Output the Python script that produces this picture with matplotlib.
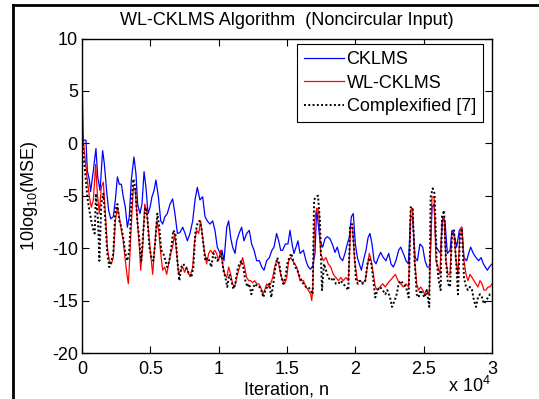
import matplotlib
matplotlib.use("Agg")
import matplotlib.pyplot as plt
from matplotlib.lines import Line2D
from matplotlib.ticker import FuncFormatter
import numpy as np

plt.rcParams["font.family"] = ["Liberation Sans", "DejaVu Sans"]
plt.rcParams["mathtext.fontset"] = "custom"
plt.rcParams["mathtext.rm"] = "Liberation Sans"
plt.rcParams["axes.unicode_minus"] = False

# CKLMS (blue)
cklms_n = [0, 100, 290, 390, 540, 630, 830, 1020, 1150, 1320, 1510, 1630, 1800, 1950, 2100,
           2290, 2440, 2590, 2730, 2880, 3020, 3170, 3320, 3460, 3610, 3800, 3950, 4070, 4240,
           4390, 4540, 4680, 4830, 4980, 5120, 5270, 5410, 5590, 5760, 5900, 6070, 6240, 6440,
           6630, 6800, 6980, 7170, 7370, 7540, 7710, 7900, 8100, 8270, 8440, 8630, 8830, 9000,
           9170, 9370, 9560, 9730, 9900, 10100, 10240, 10390, 10590, 10730, 10880, 11020, 11200,
           11320, 11490, 11680, 11850, 12050, 12240, 12410, 12590, 12780, 12980, 13150, 13320,
           13510, 13710, 13900, 14050, 14240, 14390, 14540, 14680, 14880, 15070, 15220, 15370,
           15510, 15660, 15800, 15950, 16200, 16390, 16560, 16730, 16880, 17050, 17170, 17410,
           17610, 17780, 17950, 18150, 18340, 18510, 18680, 18880, 19070, 19240, 19410, 19560,
           19710, 19850, 20000, 20150, 20290, 20440, 20590, 20780, 20930, 21070, 21220, 21370,
           21510, 21680, 21850, 22050, 22240, 22440, 22610, 22780, 22970, 23170, 23320, 23510,
           23710, 23880, 24050, 24190, 24370, 24540, 24730, 24930, 25100, 25270, 25460, 25610,
           25760, 25900, 26070, 26240, 26390, 26560, 26730, 26930, 27070, 27220, 27410, 27610,
           27780, 27950, 28140, 28290, 28440, 28630, 28830, 29020, 29200, 29370, 29510, 29660,
           29800, 30000]
cklms_mse = [1.5, 0.3, 0.3, -2.6, -3.5, -4.6, -2.6, -0.5, -3.2, -4.5, -0.7, -1.9, -4.5, -6.4, -7.2,
             -7.0, -5.4, -3.2, -3.9, -3.9, -5.1, -6.1, -8.0, -7.0, -3.5, -1.3, -2.9, -5.8, -6.7,
             -5.8, -2.7, -4.2, -6.7, -6.1, -5.1, -4.5, -3.5, -5.1, -7.4, -7.7, -7.0, -6.7, -5.8,
             -5.3, -6.7, -8.6, -8.5, -8.0, -8.6, -9.3, -8.6, -7.4, -5.4, -4.2, -5.4, -5.1, -7.0,
             -7.4, -7.7, -7.4, -8.3, -9.9, -10.5, -10.2, -11.2, -8.0, -7.4, -9.0, -9.9, -10.5,
             -9.3, -8.6, -8.0, -9.3, -8.6, -8.3, -9.6, -10.2, -11.2, -11.2, -11.8, -12.1,
             -11.2, -10.9, -10.2, -9.9, -8.6, -9.3, -10.2, -10.2, -9.6, -9.6, -8.3, -9.6,
             -10.5, -9.9, -9.3, -10.5, -10.2, -11.2, -11.8, -12.0, -11.7, -10.5, -6.2, -9.3,
             -9.9, -9.1, -8.9, -9.1, -9.7, -10.4, -9.9, -10.9, -11.2, -10.5, -9.6, -9.0,
             -7.0, -6.7, -9.6, -10.9, -11.5, -12.1, -11.2, -10.2, -9.0, -8.6, -9.6, -11.2,
             -11.5, -10.9, -10.4, -10.9, -11.2, -10.5, -11.5, -11.8, -11.2, -10.2, -9.9, -10.5,
             -11.2, -11.5, -7.0, -7.0, -10.9, -11.2, -9.6, -9.9, -11.2, -11.8, -11.8, -6.1,
             -5.8, -9.9, -10.2, -10.5, -7.0, -7.4, -10.5, -10.2, -8.3, -8.6, -9.9, -8.3,
             -8.0, -10.9, -11.2, -10.5, -9.9, -10.5, -10.9, -11.2, -10.9, -11.5, -11.8, -12.1,
             -11.8, -11.5]

# WL-CKLMS (red)
wl_n = [0, 100, 240, 390, 540, 680, 830, 1000, 1120, 1270, 1410, 1560, 1710, 1850, 2000, 2150,
        2290, 2440, 2590, 2730, 2880, 3020, 3170, 3320, 3390, 3460, 3610, 3760, 3900, 4050,
        4200, 4290, 4440, 4590, 4730, 4880, 5020, 5170, 5320, 5460, 5610, 5760, 5900, 6050,
        6200, 6340, 6490, 6630, 6780, 6930, 7070, 7220, 7370, 7510, 7660, 7800, 7950, 8100,
        8240, 8390, 8540, 8680, 8830, 8980, 9120, 9270, 9410, 9560, 9710, 9850, 10000, 10150,
        10290, 10440, 10590, 10730, 10880, 11020, 11170, 11320, 11460, 11610, 11760, 11900,
        12050, 12200, 12340, 12490, 12630, 12780, 12930, 13070, 13220, 13370, 13510, 13660,
        13800, 13950, 14100, 14240, 14390, 14540, 14680, 14830, 14980, 15120, 15270, 15410,
        15560, 15710, 15850, 15950, 16200, 16390, 16560, 16730, 16810, 16880, 17020, 17170,
        17320, 17460, 17660, 17850, 18020, 18200, 18390, 18580, 18760, 18930, 19120, 19320,
        19490, 19660, 19800, 19950, 20150, 20340, 20540, 20730, 20880, 21020, 21170, 21320,
        21460, 21610, 21800, 22000, 22190, 22340, 22540, 22730, 22930, 23120, 23320, 23510,
        23710, 23900, 24050, 24190, 24340, 24490, 24630, 24780, 24930, 25070, 25220, 25410,
        25610, 25760, 25900, 26050, 26190, 26340, 26490, 26630, 26780, 26930, 27070, 27220,
        27370, 27510, 27660, 27800, 27950, 28100, 28240, 28390, 28540, 28680, 28830, 28970,
        29120, 29270, 29410, 29560, 29710, 29850, 30000]
wl_mse = [7.0, 0.3, -1.6, -3.5, -5.1, -6.1, -5.4, -2.0, -4.8, -6.7, -4.2, -3.7, -6.7, -9.9, -11.2,
          -11.5, -10.9, -7.4, -6.1, -7.0, -8.3, -9.3, -11.2, -12.8, -13.4, -11.8, -7.7, -4.2,
          -4.5, -7.4, -9.9, -12.1, -9.9, -5.8, -6.4, -8.6, -10.5, -12.5, -9.9, -7.4, -8.3,
          -10.5, -12.1, -11.8, -12.5, -11.5, -10.5, -9.9, -8.6, -10.5, -12.5, -12.1, -11.8,
          -12.3, -11.8, -12.5, -12.5, -11.8, -9.3, -8.3, -8.6, -7.4, -9.0, -10.5, -11.5,
          -10.5, -10.2, -10.5, -10.2, -10.5, -11.2, -10.2, -11.5, -12.5, -12.8, -11.8, -12.5,
          -13.4, -13.7, -12.8, -12.1, -11.5, -10.9, -11.8, -12.8, -13.1, -13.1, -13.3, -13.1,
          -13.4, -13.4, -13.7, -14.4, -14.0, -13.4, -13.7, -13.4, -12.8, -11.8, -11.2, -11.5,
          -12.5, -13.1, -13.4, -12.8, -11.2, -10.9, -11.2, -11.5, -11.8, -12.5, -13.1, -13.1,
          -13.7, -14.0, -14.4, -15.0, -14.0, -7.4, -6.2, -6.4, -10.5, -11.2, -10.9, -11.5,
          -11.8, -12.5, -12.8, -13.1, -12.8, -13.1, -12.8, -13.1, -8.0, -8.0, -11.2, -13.1,
          -13.1, -13.3, -13.1, -11.8, -10.5, -11.2, -12.5, -13.7, -14.0, -13.7, -13.4, -13.7,
          -13.4, -13.1, -12.8, -12.5, -13.1, -13.4, -13.7, -13.4, -13.7, -6.4, -6.2, -11.2,
          -13.4, -14.0, -13.7, -14.0, -14.4, -14.0, -14.4, -5.1, -5.1, -11.2, -11.8, -12.5,
          -7.4, -7.0, -11.2, -12.5, -12.5, -8.6, -8.6, -11.2, -12.5, -8.3, -8.0, -11.2,
          -12.5, -13.1, -12.5, -12.8, -13.1, -13.4, -13.7, -13.1, -13.4, -14.0, -14.0,
          -13.7, -13.7, -13.4]

# Complexified [7] (black dotted)
cplx_n = [0, 100, 240, 390, 540, 680, 830, 930, 1020, 1170, 1270, 1410, 1560, 1710, 1850, 2000,
          2150, 2290, 2440, 2590, 2730, 2880, 3020, 3170, 3320, 3460, 3610, 3760, 3900, 4050,
          4200, 4340, 4490, 4630, 4780, 4930, 5070, 5220, 5370, 5510, 5660, 5800, 5950, 6100,
          6240, 6390, 6540, 6680, 6830, 6980, 7120, 7270, 7410, 7560, 7710, 7850, 8000, 8150,
          8290, 8440, 8590, 8730, 8880, 9020, 9170, 9320, 9460, 9610, 9760, 9900, 10050, 10200,
          10340, 10490, 10630, 10780, 10930, 11070, 11220, 11370, 11510, 11660, 11800, 11950,
          12100, 12240, 12390, 12540, 12680, 12830, 12980, 13120, 13270, 13410, 13560, 13710,
          13850, 14000, 14150, 14290, 14440, 14590, 14730, 14880, 15020, 15170, 15320, 15460,
          15610, 15760, 15950, 16200, 16390, 16560, 16730, 16880, 16980, 17120, 17270, 17410,
          17560, 17710, 17850, 18020, 18200, 18390, 18580, 18760, 18930, 19120, 19320, 19490,
          19610, 19760, 19900, 20050, 20190, 20340, 20540, 20730, 20880, 21020, 21170, 21320,
          21460, 21610, 21800, 22000, 22190, 22340, 22540, 22680, 22880, 23020, 23170, 23320,
          23510, 23710, 23900, 24050, 24190, 24340, 24490, 24630, 24780, 24930, 25070, 25220,
          25410, 25510, 25660, 25800, 25950, 26100, 26240, 26340, 26490, 26630, 26780, 26930,
          27070, 27220, 27370, 27510, 27660, 27800, 27950, 28100, 28240, 28390, 28540, 28680,
          28830, 28970, 29120, 29270, 29410, 29560, 29710, 29850, 30000]
cplx_mse = [1.2, -1.0, -2.9, -5.1, -6.4, -7.4, -8.3, -8.6, -4.8, -7.4, -11.2, -5.8, -4.8, -7.4,
            -10.5, -11.8, -11.2, -10.5, -6.4, -5.8, -7.4, -8.0, -9.0, -10.5, -11.2, -10.2,
            -5.8, -3.4, -4.2, -7.4, -9.3, -11.2, -8.3, -6.1, -7.0, -9.9, -10.9, -11.2, -9.3,
            -6.7, -8.0, -10.2, -10.5, -11.2, -11.8, -11.2, -9.9, -8.3, -8.6, -11.2, -13.1,
            -11.8, -11.5, -11.8, -12.1, -12.5, -12.8, -11.8, -8.6, -7.7, -7.4, -8.0, -9.6,
            -11.2, -10.9, -11.2, -11.8, -10.5, -10.9, -11.2, -10.9, -10.5, -12.1, -12.8,
            -13.7, -12.5, -13.1, -13.9, -13.4, -12.1, -11.5, -11.2, -11.8, -13.1, -13.7,
            -13.4, -14.4, -13.7, -13.4, -13.7, -13.7, -14.0, -14.7, -14.0, -13.7, -13.4,
            -14.7, -13.4, -11.8, -10.9, -11.5, -12.8, -13.4, -12.8, -11.5, -10.9, -10.5,
            -11.2, -11.8, -12.1, -12.8, -13.4, -13.7, -13.7, -14.0, -14.4, -5.4, -5.1, -5.0,
            -7.4, -14.0, -11.5, -12.1, -12.8, -13.1, -12.8, -13.4, -13.4, -13.1, -13.4,
            -13.7, -14.0, -8.0, -7.7, -9.9, -13.1, -13.4, -13.1, -13.4, -13.1, -11.5, -10.9,
            -11.5, -13.1, -14.7, -14.0, -13.7, -14.0, -14.4, -14.0, -14.7, -15.6, -15.0,
            -14.4, -13.4, -13.1, -13.4, -13.7, -14.7, -6.1, -6.1, -11.2, -14.4, -14.7, -14.0,
            -14.4, -14.7, -14.0, -15.6, -5.1, -4.3, -4.8, -11.2, -13.1, -14.0, -7.0, -6.4,
            -11.2, -13.4, -13.7, -8.6, -8.3, -11.2, -14.4, -8.6, -8.3, -12.8, -13.7, -14.0,
            -13.7, -14.0, -15.0, -15.6, -14.7, -14.4, -14.7, -15.3, -15.0, -14.7, -14.4,
            -14.4]

series_labels = ["CKLMS", "WL-CKLMS", "Complexified [7]"]
x_ticks = [0, 5000, 10000, 15000, 20000, 25000, 30000]
y_ticks = [-20, -15, -10, -5, 0, 5, 10]

W, H = 539, 399
fig = plt.figure(figsize=(W / 100, H / 100), dpi=100)
ax = fig.add_axes([82 / W, 1 - 353 / H, 410 / W, 314.5 / H])

ax.plot(cklms_n, cklms_mse, color="#0000ff", lw=0.9, label=series_labels[0])
ax.plot(wl_n, wl_mse, color="#ff0000", lw=0.9, label=series_labels[1])
ax.plot(cplx_n, cplx_mse, color="black", lw=1.4, ls=(0, (1, 1.2)), label=series_labels[2])

ax.set_xlim(0, 30000)
ax.set_ylim(-20, 10)
ax.set_xticks(x_ticks)
ax.set_yticks(y_ticks)
ax.xaxis.set_major_formatter(FuncFormatter(lambda v, p: f"{v / 1e4:g}"))
ax.tick_params(direction="in", length=5, width=0.8, top=True, right=True,
               labelsize=13, pad=6, colors="black")
ax.tick_params(axis="y", pad=3)
for s in ax.spines.values():
    s.set_linewidth(1.0)

ax.set_title("WL-CKLMS Algorithm  (Noncircular Input)", fontsize=13, pad=10)
ax.set_xlabel("Iteration, n", fontsize=13, labelpad=2)
ax.set_ylabel("10log$_{10}$(MSE)", fontsize=13)
ax.yaxis.set_label_coords(-0.102, 0.5)
fig.text(491 / W, 3 / H, "x 10$^{4}$", fontsize=13, ha="right", va="bottom")

leg = ax.legend(loc="upper right", bbox_to_anchor=(483 / W, 1 - 44 / H),
                bbox_transform=fig.transFigure, borderaxespad=0, fancybox=False,
                edgecolor="black", framealpha=1, fontsize=13, handlelength=2.2,
                handletextpad=0.15, labelspacing=0.35, borderpad=0.4)
leg.get_frame().set_linewidth(0.8)

# outer frame (top and left edges)
fig.add_artist(Line2D([13 / W, 13 / W], [0, 1 - 5 / H], color="black", lw=2))
fig.add_artist(Line2D([13 / W, 1], [1 - 5 / H, 1 - 5 / H], color="black", lw=2))

fig.savefig("out.png", dpi=100)
